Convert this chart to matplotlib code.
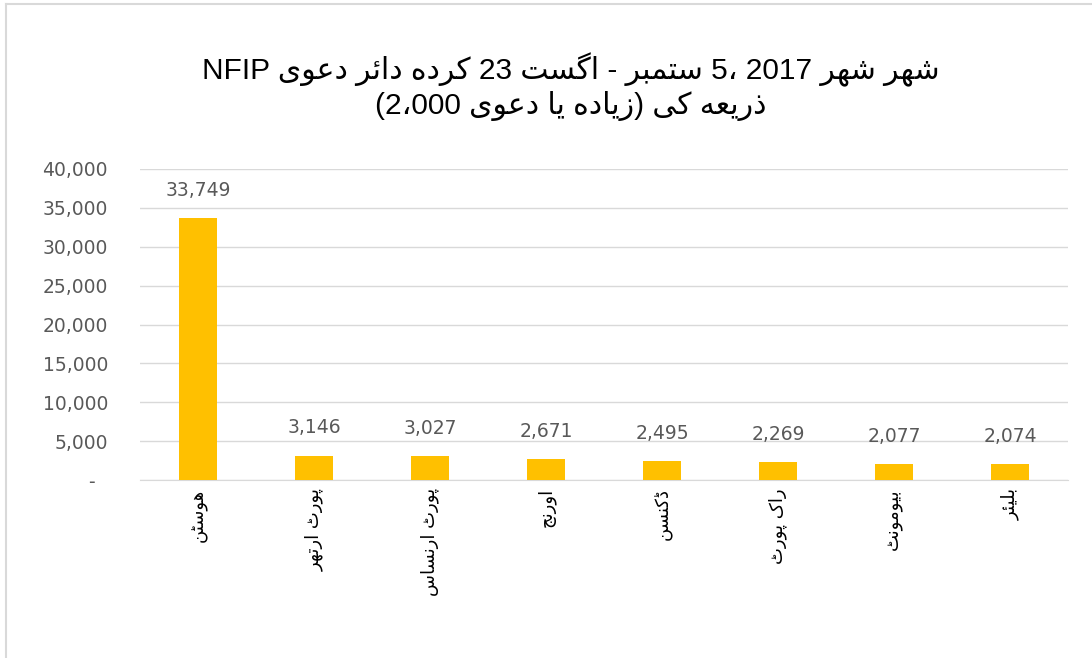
import matplotlib
matplotlib.use("Agg")
import matplotlib.pyplot as plt
from matplotlib.lines import Line2D
from matplotlib.ticker import FuncFormatter, MultipleLocator

# chart data (Urdu text in reading order)
title_lines = [
    "شہر شہر 2017 5، ستمبر - اگست 23 کردہ دائر دعوی NFIP",
    "ذریعہ کے زیادہ) یا دعوی (2،000",
]
cities = ["ہوسٹن", "پورٹ ارتھر", "پورٹ ارنساس", "اورنج",
          "ڈکنسن", "راک پورٹ", "بیومونٹ", "بلیئر"]
claims = [33749, 3146, 3027, 2671, 2495, 2269, 2077, 2074]

# matplotlib has no arabic shaping, so do a small one here
# letter -> (isolated, final, initial, medial)
# DejaVu lacks the heh goal / yeh barree forms, so those use close glyphs
FORMS = {
    "\u0622": ("\uFE81", "\uFE82", None, None),
    "\u0627": ("\uFE8D", "\uFE8E", None, None),
    "\u0626": ("\uFE89", "\uFE8A", "\uFE8B", "\uFE8C"),
    "\u0628": ("\uFE8F", "\uFE90", "\uFE91", "\uFE92"),
    "\u067E": ("\uFB56", "\uFB57", "\uFB58", "\uFB59"),
    "\u062A": ("\uFE95", "\uFE96", "\uFE97", "\uFE98"),
    "\u0679": ("\uFB66", "\uFB67", "\uFB68", "\uFB69"),
    "\u062C": ("\uFE9D", "\uFE9E", "\uFE9F", "\uFEA0"),
    "\u062F": ("\uFEA9", "\uFEAA", None, None),
    "\u0688": ("\uFB88", "\uFB89", None, None),
    "\u0630": ("\uFEAB", "\uFEAC", None, None),
    "\u0631": ("\uFEAD", "\uFEAE", None, None),
    "\u0632": ("\uFEAF", "\uFEB0", None, None),
    "\u0633": ("\uFEB1", "\uFEB2", "\uFEB3", "\uFEB4"),
    "\u0634": ("\uFEB5", "\uFEB6", "\uFEB7", "\uFEB8"),
    "\u0639": ("\uFEC9", "\uFECA", "\uFECB", "\uFECC"),
    "\u06A9": ("\uFB8E", "\uFB8F", "\uFB90", "\uFB91"),
    "\u06AF": ("\uFB92", "\uFB93", "\uFB94", "\uFB95"),
    "\u0644": ("\uFEDD", "\uFEDE", "\uFEDF", "\uFEE0"),
    "\u0645": ("\uFEE1", "\uFEE2", "\uFEE3", "\uFEE4"),
    "\u0646": ("\uFEE5", "\uFEE6", "\uFEE7", "\uFEE8"),
    "\u0648": ("\uFEED", "\uFEEE", None, None),
    "\u06C1": ("\uFEE9", "\uFEEA", "\uFEEB", "\uFEEC"),
    "\u06BE": ("\uFBAA", "\uFBAB", "\uFBAC", "\uFBAD"),
    "\u06CC": ("\uFBFC", "\uFBFD", "\uFBFE", "\uFBFF"),
    "\u06D2": ("\uFEEF", "\uFEF0", None, None),
}


def shape_run(run):
    out = []
    for i, c in enumerate(run):
        f = FORMS[c]
        prev_joins = i > 0 and FORMS[run[i - 1]][2] is not None
        next_joins = f[2] is not None and i + 1 < len(run)
        if prev_joins and next_joins:
            out.append(f[3])
        elif prev_joins:
            out.append(f[1])
        elif next_joins:
            out.append(f[2])
        else:
            out.append(f[0])
    return "".join(reversed(out))


def visual(text):
    res = []
    for tok in reversed(text.split(" ")):
        s, run = "", ""
        for c in tok:
            if c in FORMS:
                run += c
            else:
                if run:
                    s += shape_run(run)
                    run = ""
                s += c
        if run:
            s += shape_run(run)
        res.append(s)
    return " ".join(res)


W, H = 1092, 658
fig = plt.figure(figsize=(W / 100, H / 100), dpi=100)
ax = fig.add_axes([140 / W, (H - 480) / H, 928 / W, 311 / H])

x = range(len(cities))
ax.bar(x, claims, width=0.33, color="#FFC000", zorder=3)
for xi, v in zip(x, claims):
    ax.annotate(f"{v:,}", (xi, v), xytext=(0, 13), textcoords="offset points",
                ha="center", va="bottom", fontsize=13.5, color="#595959",
                family=["DejaVu Sans"])

ax.set_xlim(-0.5, len(cities) - 0.5)
ax.set_ylim(0, 40000)
ax.yaxis.set_major_locator(MultipleLocator(5000))
ax.yaxis.set_major_formatter(FuncFormatter(lambda v, p: f"{int(v):,}" if v else "-  "))
ax.grid(axis="y", color="#D9D9D9", lw=1, zorder=0)
for s in ["top", "right", "left"]:
    ax.spines[s].set_visible(False)
ax.spines["bottom"].set_color("#D9D9D9")
ax.tick_params(axis="both", length=0)
ax.tick_params(axis="y", labelsize=13.5, labelcolor="#595959", pad=23)
ax.set_xticks(list(x))
ax.set_xticklabels([visual(c) for c in cities], rotation=90, ha="center", va="top",
                   fontsize=13, family=["DejaVu Sans"], color="black")
ax.tick_params(axis="x", pad=6)

fig.text(0.523, (H - 70) / H, visual(title_lines[0]), ha="center", va="center",
         fontsize=21.5, family=["Liberation Sans", "DejaVu Sans"])
fig.text(0.523, (H - 106) / H, visual(title_lines[1]), ha="center", va="center",
         fontsize=21.5, family=["Liberation Sans", "DejaVu Sans"])

# chart area border
fig.add_artist(Line2D([6 / W, 6 / W], [0, (H - 4) / H], color="#D9D9D9", lw=1.5))
fig.add_artist(Line2D([6 / W, 1], [(H - 4) / H, (H - 4) / H], color="#D9D9D9", lw=1.5))

fig.savefig("out.png", dpi=100)
